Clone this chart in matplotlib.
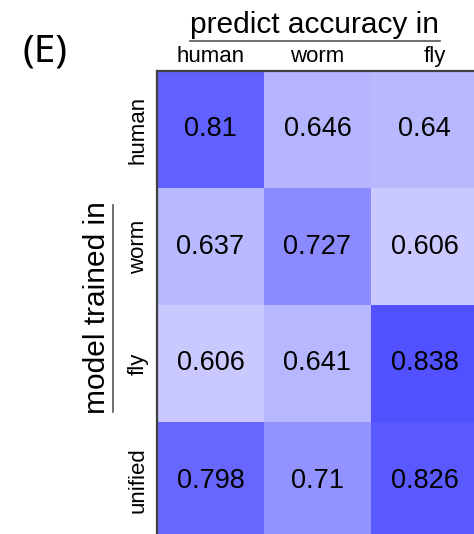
import numpy as np
import matplotlib
matplotlib.use("Agg")
import matplotlib.pyplot as plt
from matplotlib.colors import LinearSegmentedColormap
from matplotlib.lines import Line2D
from matplotlib.transforms import ScaledTranslation

plt.rcParams["font.family"] = ["Liberation Sans", "DejaVu Sans"]

trained_in = ["human", "worm", "fly", "unified"]
predict_in = ["human", "worm", "fly"]
accuracy = [
    [0.81, 0.646, 0.64],
    [0.637, 0.727, 0.606],
    [0.606, 0.641, 0.838],
    [0.798, 0.71, 0.826],
]

W, H = 474, 534
fig = plt.figure(figsize=(W / 100, H / 100), dpi=100)
ax = fig.add_axes([157 / W, (H - 539) / H, 321 / W, 468 / H])

cmap = LinearSegmentedColormap.from_list("wb", ["#ffffff", "#0000ff"])
acc = np.array(accuracy)
ax.imshow(acc, cmap=cmap, vmin=0.5, vmax=1.0, aspect="auto")

for i in range(acc.shape[0]):
    for j in range(acc.shape[1]):
        ax.text(j, i, f"{acc[i, j]:g}", ha="center", va="center",
                fontsize=19.5, color="black")

ax.xaxis.tick_top()
ax.set_xticks(range(len(predict_in)))
ax.set_xticklabels(predict_in, fontsize=16)
ax.set_yticks(range(len(trained_in)))
ax.set_yticklabels(trained_in, fontsize=16, rotation=90, va="center")
ax.tick_params(axis="x", length=0, pad=3)
ax.tick_params(axis="y", length=0, pad=6)

# nudge the last column label right a bit
fly_lbl = ax.get_xticklabels()[-1]
fly_lbl.set_transform(fly_lbl.get_transform()
                      + ScaledTranslation(10 / 100, 0, fig.dpi_scale_trans))

for side in ("right", "bottom"):
    ax.spines[side].set_visible(False)
for side in ("top", "left"):
    ax.spines[side].set_color("#404040")
    ax.spines[side].set_linewidth(1.6)

# column / row headers with underlines
fig.text(315 / W, 1 - 33 / H, "predict accuracy in", ha="center",
         va="baseline", fontsize=21.5)
fig.add_artist(Line2D([190 / W, 440 / W], [1 - 41 / H, 1 - 41 / H],
                      color="#555555", lw=1.2))
fig.text(97 / W, 1 - 308 / H, "model trained in", ha="center",
         va="center", rotation=90, fontsize=21.5)
fig.add_artist(Line2D([113 / W, 113 / W], [1 - 205 / H, 1 - 412 / H],
                      color="#555555", lw=1.2))

fig.text(45 / W, 1 - 52 / H, "(E)", ha="center", va="center",
         fontsize=28, family=["Noto Sans", "DejaVu Sans"])

fig.savefig("out.png", dpi=100)
